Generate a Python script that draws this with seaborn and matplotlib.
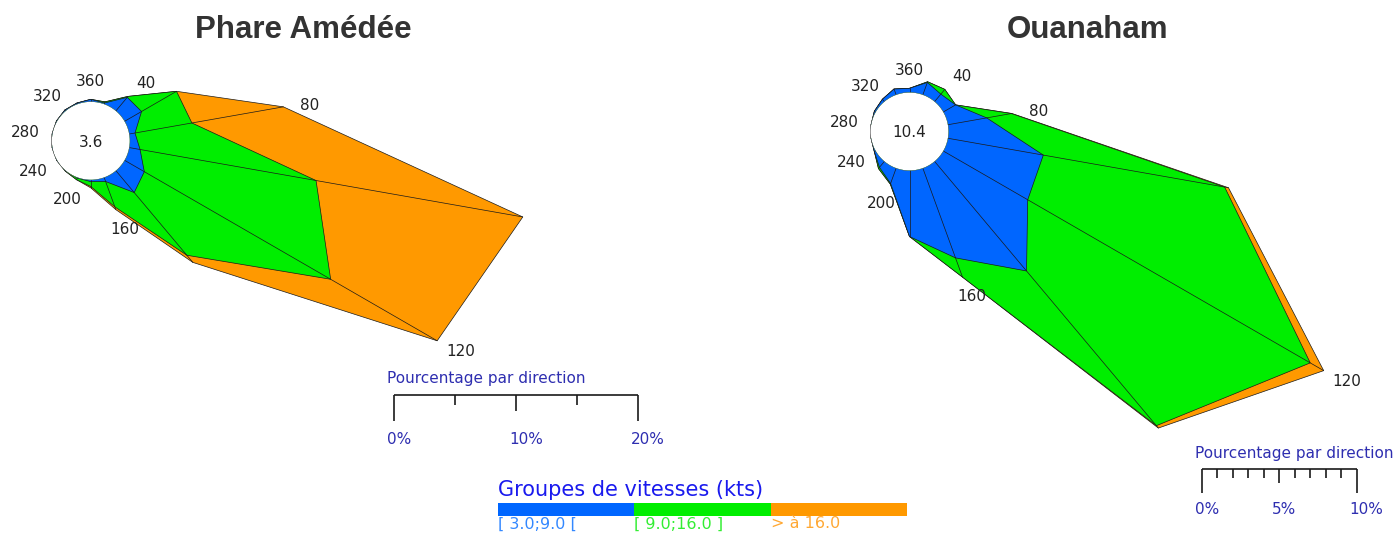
import numpy as np
import matplotlib
matplotlib.use("Agg")
import matplotlib.pyplot as plt
import seaborn as sns
from matplotlib.colors import ListedColormap

# ---------------- data ----------------
DIRECTIONS = list(range(0, 360, 20))
LABEL_DIRECTIONS = [0, 40, 80, 120, 160, 200, 240, 280, 320]
LABEL_TEXTS = ["360", "40", "80", "120", "160", "200", "240", "280", "320"]

SPEED_GROUPS = ["[ 3.0;9.0 [", "[ 9.0;16.0 ]", "> à 16.0"]
SPEED_COLORS = ["#0066ff", "#00ee00", "#ff9900"]
SPEED_TEXT_COLORS = ["#3388ff", "#33ee33", "#ffa833"]
LEGEND_TITLE = "Groupes de vitesses (kts)"
SCALE_TITLE = "Pourcentage par direction"

# percentage per direction (0, 20, ..., 340) for each speed group
AMEDEE_BLUE = [0.20, 0.10, 1.45, 1.60, 0.48, 0.90, 1.86, 2.33, 0.35,
               0.15, 0.05, 0.02, 0.02, 0.02, 0.02, 0.05, 0.10, 0.10]
AMEDEE_GREEN = [0.00, 0.10, 0.10, 3.30, 4.72, 14.60, 17.58, 6.69, 2.21,
                0.40, 0.15, 0.03, 0.00, 0.00, 0.00, 0.00, 0.00, 0.00]
AMEDEE_ORANGE = [0.00, 0.00, 0.00, 0.00, 7.59, 17.15, 10.05, 0.76, 0.24,
                 0.11, 0.00, 0.00, 0.00, 0.00, 0.00, 0.00, 0.00, 0.00]
AMEDEE_CALM = "3.6"
AMEDEE_SCALE_TICKS = [0, 5, 10, 15, 20]
AMEDEE_SCALE_LABELS = {0: "0%", 10: "10%", 20: "20%"}

OUANAHAM_BLUE = [0.27, 0.85, 0.63, 0.92, 2.54, 6.25, 6.29, 9.23, 6.16,
                 4.26, 1.05, 0.50, 0.10, 0.00, 0.00, 0.10, 0.20, 0.40]
OUANAHAM_GREEN = [0.00, 0.05, 0.40, 0.00, 1.62, 11.88, 21.05, 13.03, 1.32,
                  0.00, 0.05, 0.10, 0.00, 0.00, 0.00, 0.00, 0.00, 0.00]
OUANAHAM_ORANGE = [0.00, 0.00, 0.00, 0.00, 0.03, 0.25, 1.00, 0.20, 0.00,
                   0.00, 0.00, 0.00, 0.00, 0.00, 0.00, 0.00, 0.00, 0.00]
OUANAHAM_CALM = "10.4"
OUANAHAM_SCALE_TICKS = list(range(0, 11))
OUANAHAM_SCALE_LABELS = {0: "0%", 5: "5%", 10: "10%"}

# ---------------- style ----------------
sns.set_theme(style="white")
plt.rcParams["font.family"] = ["DejaVu Sans"]

W, H = 1394, 533
fig = plt.figure(figsize=(W / 100, H / 100), dpi=100)
fig.patch.set_facecolor("white")

HOLE_PX = 39.0
EDGE = "#1a1a1a"
LABEL_COLOR = "#222222"
SCALE_COLOR = "#2e2eb0"


def fig_rect(x0, y0, w, h):
    """pixel box (top-left origin) -> figure fraction rect"""
    return [x0 / W, 1 - (y0 + h) / H, w / W, h / H]


def draw_rose(cx, cy, px_per_pct, rmax, blue, green, orange, calm):
    R = HOLE_PX + rmax * px_per_pct
    ax = fig.add_axes(fig_rect(cx - R, cy - R, 2 * R, 2 * R), projection="polar")
    ax.set_theta_zero_location("N")
    ax.set_theta_direction(-1)
    ax.set_ylim(0, rmax)
    ax.set_rorigin(-HOLE_PX / px_per_pct)
    ax.set_axis_off()

    theta = np.deg2rad(DIRECTIONS)
    c1 = np.asarray(blue, float)
    c2 = c1 + np.asarray(green, float)
    c3 = c2 + np.asarray(orange, float)
    th_closed = np.r_[theta, theta[0]]
    for cum, col, z in [(c3, SPEED_COLORS[2], 1), (c2, SPEED_COLORS[1], 2),
                        (c1, SPEED_COLORS[0], 3)]:
        ax.fill(th_closed, np.r_[cum, cum[0]], facecolor=col, edgecolor=EDGE,
                linewidth=0.5, zorder=z)
    for t, r in zip(theta, c3):
        ax.plot([t, t], [0, r], color=EDGE, linewidth=0.5, zorder=4)

    tc = np.linspace(0, 2 * np.pi, 240)
    ax.fill(tc, np.zeros_like(tc), facecolor="white", edgecolor="#555555",
            linewidth=0.5, zorder=5)
    ax.text(0.5, 0.5, calm, transform=ax.transAxes, ha="center",
            va="center_baseline", fontsize=11, color=LABEL_COLOR, zorder=6)

    for d, txt in zip(LABEL_DIRECTIONS, LABEL_TEXTS):
        i = DIRECTIONS.index(d)
        t = np.deg2rad(d)
        ax.annotate(txt, xy=(t, c3[i]),
                    xytext=(27 * np.sin(t), 19 * np.cos(t)),
                    textcoords="offset pixels", ha="center",
                    va="center_baseline", fontsize=11, color=LABEL_COLOR,
                    zorder=7)
    return ax


def draw_scale(x0, ytop, px_per_pct, ticks, labels, title_base, label_base,
               major_len, mid_len, minor_len):
    span = ticks[-1] - ticks[0]
    sax = fig.add_axes(fig_rect(x0, ytop - 2, span * px_per_pct, major_len + 4))
    sax.set_xlim(ticks[0], ticks[-1])
    sax.set_ylim(major_len + 2, -2)
    sax.set_axis_off()
    sax.set_facecolor("none")
    sax.hlines(0, ticks[0], ticks[-1], color="#1a1a1a", linewidth=1.2,
               clip_on=False)
    mid = (ticks[0] + ticks[-1]) / 2
    for t in ticks:
        if t in (ticks[0], ticks[-1]):
            L = major_len
        elif t == mid:
            L = mid_len
        else:
            L = minor_len
        sax.vlines(t, 0, L, color="#1a1a1a", linewidth=1.2, clip_on=False)
    for t, lab in labels.items():
        xp = x0 + (t - ticks[0]) * px_per_pct - 7
        fig.text(xp / W, 1 - label_base / H, lab, ha="left", va="baseline",
                 fontsize=11, color=SCALE_COLOR)
    fig.text((x0 - 7) / W, 1 - title_base / H, SCALE_TITLE, ha="left",
             va="baseline", fontsize=11, color=SCALE_COLOR)


# ---------------- roses ----------------
draw_rose(90.8, 140.8, 12.24, 40, AMEDEE_BLUE, AMEDEE_GREEN, AMEDEE_ORANGE,
          AMEDEE_CALM)
draw_rose(909.5, 131.5, 15.5, 32, OUANAHAM_BLUE, OUANAHAM_GREEN,
          OUANAHAM_ORANGE, OUANAHAM_CALM)

# ---------------- titles ----------------
for x, txt in [(303.3, "Phare Amédée"), (1087.5, "Ouanaham")]:
    fig.text(x / W, 1 - 38.3 / H, txt, ha="center", va="baseline",
             fontsize=22.5, fontweight="bold", family="Liberation Sans",
             color="#333333")

# ---------------- scale bars ----------------
draw_scale(393.5, 395.1, 12.24, AMEDEE_SCALE_TICKS, AMEDEE_SCALE_LABELS,
           383.0, 443.5, 26, 16, 10)
draw_scale(1201.7, 469.3, 15.5, OUANAHAM_SCALE_TICKS, OUANAHAM_SCALE_LABELS,
           458.0, 514.5, 24, 14, 9)

# ---------------- speed legend ----------------
lx0, ly0, lw, lh = 498.3, 503.3, 408.4, 12.7
lax = fig.add_axes(fig_rect(lx0, ly0, lw, lh))
sns.heatmap(np.arange(len(SPEED_GROUPS))[None, :],
            cmap=ListedColormap(SPEED_COLORS), vmin=0, vmax=len(SPEED_GROUPS) - 1,
            cbar=False, xticklabels=False, yticklabels=False, linewidths=0,
            ax=lax)
lax.set_axis_off()
fig.text(lx0 / W, 1 - 496 / H, LEGEND_TITLE, ha="left", va="baseline",
         fontsize=15, color="#1a1aee")
for i, (lab, col) in enumerate(zip(SPEED_GROUPS, SPEED_TEXT_COLORS)):
    xp = lx0 + i * lw / len(SPEED_GROUPS)
    fig.text(xp / W, 1 - 528.5 / H, lab, ha="left", va="baseline",
             fontsize=11.5, color=col)

fig.savefig("out.png", dpi=100, facecolor="white")
